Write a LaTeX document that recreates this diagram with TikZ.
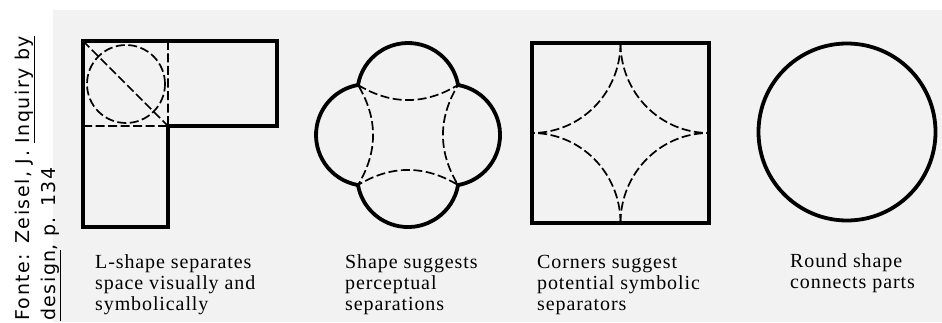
\documentclass[tikz,border=0pt]{standalone}
\usepackage{fontspec}
\setmainfont{Liberation Serif}[LetterSpace=4.5]
\newfontfamily\srcfont{DejaVu Sans}[LetterSpace=8]

\tikzset{
  outline/.style={line width=3.8pt},
  sepline/.style={line width=1.7pt, dash pattern=on 9pt off 3.5pt},
  caption/.style={anchor=base west, inner sep=0pt, align=left,
    font=\fontsize{20}{21}\selectfont},
}

\begin{document}
\begin{tikzpicture}[x=1pt,y=1pt]
\useasboundingbox (0,0) rectangle (942,322);
\fill[white] (0,0) rectangle (942,322);
\fill[black!5] (53,0) rectangle (942,312);

% L-shape
\draw[outline, line width=4.5pt] (83,281) -- (277,281) -- (277,196) -- (168,196) -- (168,95) -- (83,95) -- cycle;
\draw[sepline] (168,281) -- (168,196) (83,196) -- (168,196) (83,281) -- (168,196);
\draw[sepline] (126,238) circle[radius=39];

% four lobes
\begin{scope}[shift={(408,187)}]
\draw[outline] (-50,50)
  arc[start angle=170, end angle=10, radius=50.8]
  arc[start angle=80, end angle=-80, radius=50.8]
  arc[start angle=-10, end angle=-170, radius=50.8]
  arc[start angle=-100, end angle=-260, radius=50.8] -- cycle;
\draw[sepline] (-50,50) to[bend right=31] (50,50) to[bend right=31] (50,-50)
  to[bend right=31] (-50,-50) to[bend right=31] (-50,50);
\end{scope}

% square with corners
\draw[outline, line width=4.2pt] (532,99) rectangle (709,279);
\draw[sepline] (620.5,279) arc[start angle=0, end angle=-90, x radius=88.5, y radius=90];
\draw[sepline] (620.5,279) arc[start angle=180, end angle=270, x radius=88.5, y radius=90];
\draw[sepline] (620.5,99) arc[start angle=0, end angle=90, x radius=88.5, y radius=90];
\draw[sepline] (620.5,99) arc[start angle=180, end angle=90, x radius=88.5, y radius=90];

% round
\draw[outline] (847,190) circle[radius=88.5];

% captions (anchored on last line)
\node[caption] (capL) at (95,11.5) {L-shape separates\\space visually and\\symbolically};
\node[caption] (capS) at (345,11.5) {Shape suggests\\perceptual\\separations};
\node[caption] (capC) at (537,11.5) {Corners suggest\\potential symbolic\\separators};
\node[caption] (capR) at (790,34) {Round shape\\connects parts};

% source
\node[rotate=90, anchor=base west, inner sep=0pt, align=left,
  font=\srcfont\fontsize{19}{26}\selectfont] (src) at (55,1)
  {Fonte: Zeisel, J. \underline{Inquiry by}\\\underline{design}, p. 134};
\end{tikzpicture}
\end{document}
